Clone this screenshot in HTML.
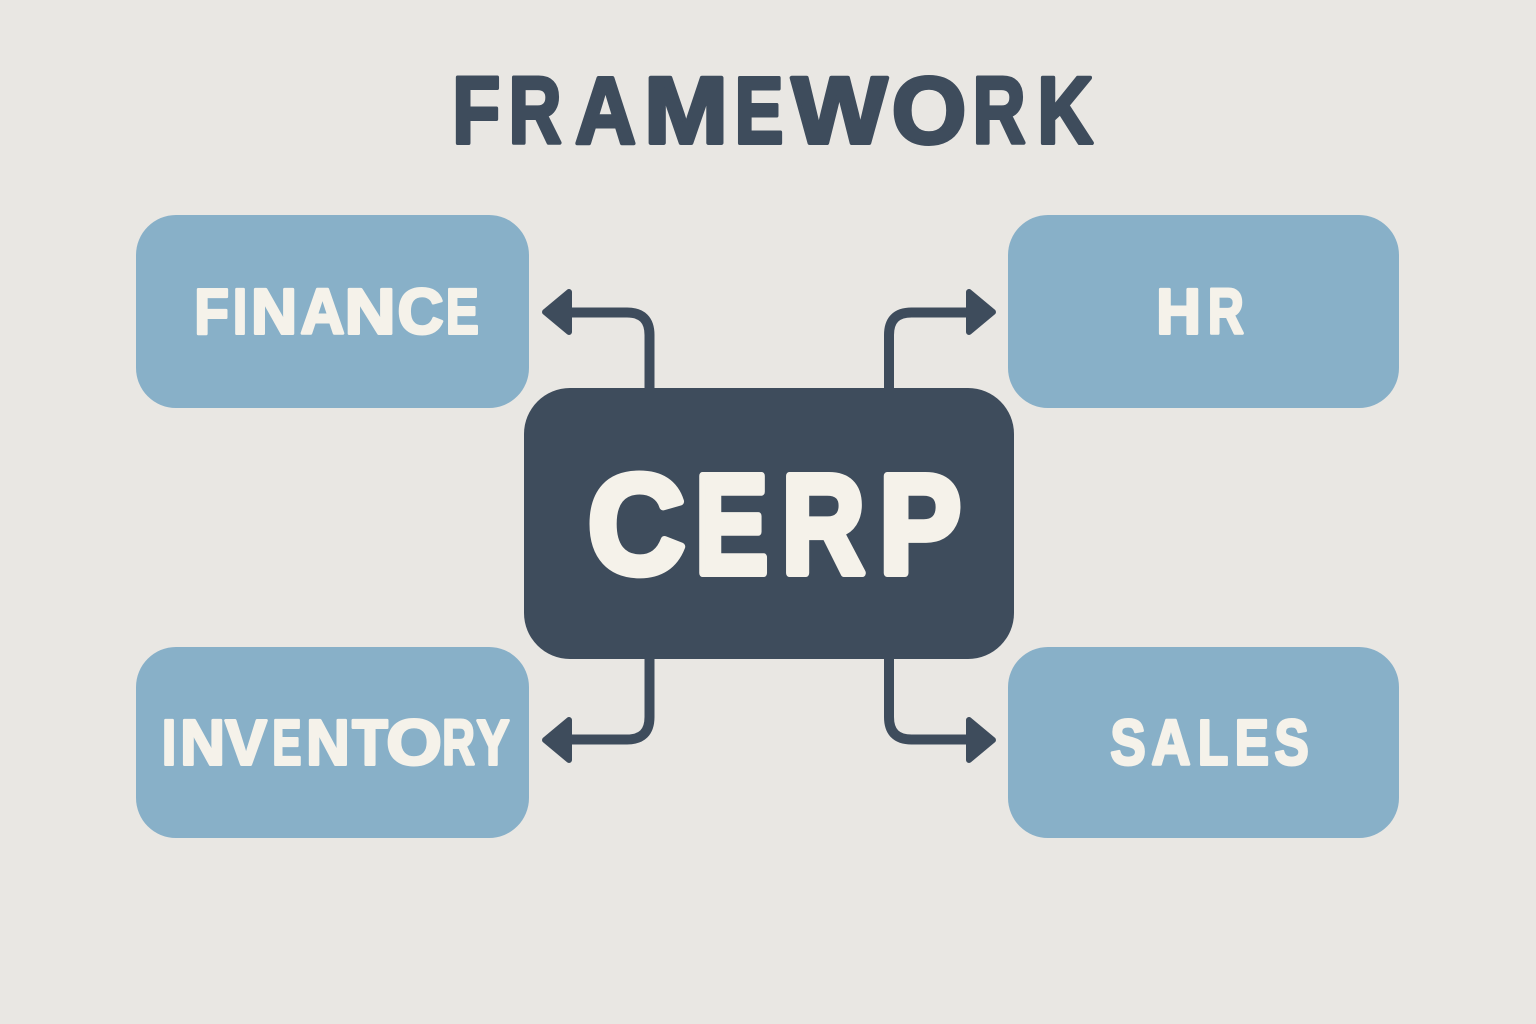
<!DOCTYPE html>
<html lang="en">
<head>
<meta charset="utf-8">
<title>CERP Framework</title>
<style>
html,body{margin:0;padding:0;width:1536px;height:1024px;overflow:hidden;background:#e9e7e3}
svg{display:block}
text{font-family:"Liberation Sans",sans-serif;font-weight:700;stroke-linejoin:round}
</style>
</head>
<body>
<svg width="1536" height="1024" viewBox="0 0 1536 1024" xmlns="http://www.w3.org/2000/svg">
<rect width="1536" height="1024" fill="#e9e7e3"/>

<text y="143" font-size="94.5" fill="#3e4c5c" stroke="#3e4c5c" stroke-width="4"><tspan x="452.2" textLength="48" lengthAdjust="spacingAndGlyphs">F</tspan><tspan x="508.6" textLength="52.9" lengthAdjust="spacingAndGlyphs">R</tspan><tspan x="575" textLength="61" lengthAdjust="spacingAndGlyphs">A</tspan><tspan x="644" textLength="84.1" lengthAdjust="spacingAndGlyphs">M</tspan><tspan x="734.6" textLength="48.8" lengthAdjust="spacingAndGlyphs">E</tspan><tspan x="791.7" textLength="95.6" lengthAdjust="spacingAndGlyphs">W</tspan><tspan x="891.8" textLength="74.6" lengthAdjust="spacingAndGlyphs">O</tspan><tspan x="972.6" textLength="52.9" lengthAdjust="spacingAndGlyphs">R</tspan><tspan x="1037.4" textLength="55.6" lengthAdjust="spacingAndGlyphs">K</tspan></text>

<g fill="#88b0c8">
<rect x="136" y="215" width="393" height="193" rx="40"/>
<rect x="1008" y="215" width="391" height="193" rx="40"/>
<rect x="136" y="647" width="393" height="191" rx="40"/>
<rect x="1008" y="647" width="391" height="191" rx="40"/>
</g>

<g fill="none" stroke="#3e4c5c" stroke-width="10">
<path d="M649.5 392V335Q649.5 312.5 627 312.5H565"/>
<path d="M889 392V335Q889 312.5 911.5 312.5H970"/>
<path d="M649.5 655V717Q649.5 739.5 627 739.5H565"/>
<path d="M889 655V717Q889 739.5 911.5 739.5H970"/>
</g>
<g fill="none" stroke="#3e4c5c" stroke-width="5">
<path d="M649.5 392V335Q649.5 312.5 627 312.5H565"/>
<path d="M889 392V335Q889 312.5 911.5 312.5H970"/>
<path d="M649.5 655V717Q649.5 739.5 627 739.5H565"/>
<path d="M889 655V717Q889 739.5 911.5 739.5H970"/>
</g>
<g fill="#3e4c5c" stroke="#3e4c5c" stroke-width="6" stroke-linejoin="round">
<path d="M545 312L569 292V332Z"/>
<path d="M993 312L969 292V332Z"/>
<path d="M545 740L569 720V760Z"/>
<path d="M993 740L969 720V760Z"/>
</g>

<rect x="524" y="388" width="490" height="271" rx="46" fill="#3e4c5c"/>

<g fill="#f5f2ea" stroke="#f5f2ea">
<text y="573" font-size="141" stroke-width="8"><tspan x="587.8" textLength="97.3" lengthAdjust="spacingAndGlyphs">C</tspan><tspan x="695" textLength="73.2" lengthAdjust="spacingAndGlyphs">E</tspan><tspan x="781.6" textLength="83.3" lengthAdjust="spacingAndGlyphs">R</tspan><tspan x="879" textLength="82.2" lengthAdjust="spacingAndGlyphs">P</tspan></text>

<text y="333.5" font-size="64" stroke-width="3"><tspan x="194.4" textLength="34.5" lengthAdjust="spacingAndGlyphs">F</tspan><tspan x="233" textLength="14.1" lengthAdjust="spacingAndGlyphs">I</tspan><tspan x="251.1" textLength="45.9" lengthAdjust="spacingAndGlyphs">N</tspan><tspan x="300.5" textLength="44" lengthAdjust="spacingAndGlyphs">A</tspan><tspan x="344.6" textLength="50.9" lengthAdjust="spacingAndGlyphs">N</tspan><tspan x="397.6" textLength="45.9" lengthAdjust="spacingAndGlyphs">C</tspan><tspan x="445.9" textLength="32.9" lengthAdjust="spacingAndGlyphs">E</tspan></text>

<text y="333.5" font-size="64" stroke-width="3"><tspan x="1156.2" textLength="44.7" lengthAdjust="spacingAndGlyphs">H</tspan><tspan x="1207.9" textLength="35.9" lengthAdjust="spacingAndGlyphs">R</tspan></text>

<text y="764.5" font-size="64" stroke-width="3"><tspan x="162" textLength="14.1" lengthAdjust="spacingAndGlyphs">I</tspan><tspan x="180.2" textLength="44.7" lengthAdjust="spacingAndGlyphs">N</tspan><tspan x="225.2" textLength="41.5" lengthAdjust="spacingAndGlyphs">V</tspan><tspan x="272.3" textLength="29.2" lengthAdjust="spacingAndGlyphs">E</tspan><tspan x="306.3" textLength="43.4" lengthAdjust="spacingAndGlyphs">N</tspan><tspan x="352.3" textLength="35.5" lengthAdjust="spacingAndGlyphs">T</tspan><tspan x="386.4" textLength="55.4" lengthAdjust="spacingAndGlyphs">O</tspan><tspan x="442.2" textLength="32.6" lengthAdjust="spacingAndGlyphs">R</tspan><tspan x="476.5" textLength="33" lengthAdjust="spacingAndGlyphs">Y</tspan></text>

<text y="764.5" font-size="64" stroke-width="3"><tspan x="1110.4" textLength="35.3" lengthAdjust="spacingAndGlyphs">S</tspan><tspan x="1151.5" textLength="39" lengthAdjust="spacingAndGlyphs">A</tspan><tspan x="1197.9" textLength="30.4" lengthAdjust="spacingAndGlyphs">L</tspan><tspan x="1234.75" textLength="34.2" lengthAdjust="spacingAndGlyphs">E</tspan><tspan x="1274.5" textLength="34.2" lengthAdjust="spacingAndGlyphs">S</tspan></text>
</g>
</svg>
</body>
</html>
